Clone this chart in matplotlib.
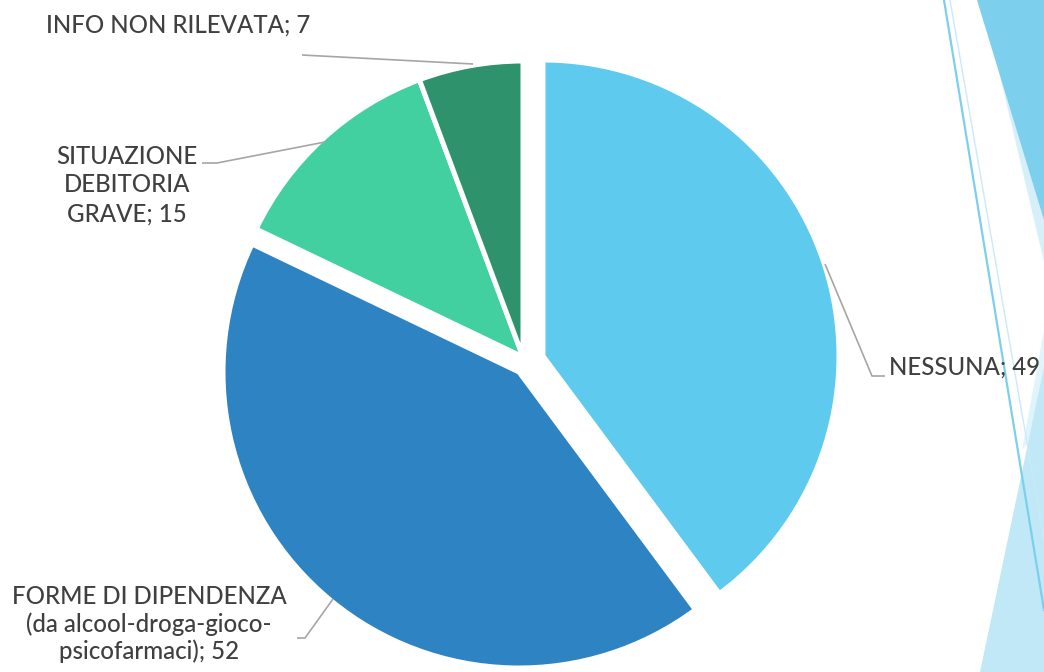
import matplotlib
matplotlib.use("Agg")
import matplotlib.pyplot as plt
from matplotlib.patches import Polygon

# ---- data ----
categories = ["NESSUNA", "FORME DI DIPENDENZA\n(da alcool-droga-gioco-\npsicofarmaci)",
              "SITUAZIONE\nDEBITORIA\nGRAVE", "INFO NON RILEVATA"]
values = [49, 52, 15, 7]
colors = ["#5ECAEE", "#2E83C3", "#43D0A0", "#2E936C"]

# ---- style / layout (pixel coords, y measured from top) ----
W, H = 1044, 672
CENTER = (523, 357)
RADIUS = 296
SLICE_SHIFT = [(20, 1), (-4, -15), (0, 0), (0, 0)]  # (dx right, dy up) px
TEXT_COLOR = "#404040"
LINE_COLOR = "#A6A6A6"
FONT = ["Lato", "DejaVu Sans"]
FS = 17.3

label_pos = [  # (x, y, ha)
    (889, 367, "left"),
    (149, 624, "center"),
    (127, 185, "center"),
    (178, 25, "center"),
]
leaders = [
    [(825, 264), (872, 376), (885, 376)],
    [(297, 638), (305, 638), (333, 599)],
    [(202, 163), (217, 163), (325, 142)],
    [(302, 55), (473, 64)],
]
spacings = [1.0, 1.22, 1.3, 1.0]

fig = plt.figure(figsize=(W / 100, H / 100), dpi=100)
ax = fig.add_axes([0, 0, 1, 1])

def Y(y):
    return H - y

# background decoration (slide theme)
deco = [
    ([(995, 55), (W, 262), (W, 100)], "#D6F0FA"),
    ([(977, 0), (W, 0), (W, 220)], "#7DCFEE"),
    ([(1044, 330), (1044, 420), (1022, 450)], "#E0F4FB"),
    ([(980, H), (W, 367), (W, H)], "#C0E8F7"),
]
for pts, c in deco:
    ax.add_patch(Polygon([(x, Y(y)) for x, y in pts], closed=True,
                         facecolor=c, edgecolor="none", zorder=0))
ax.plot([944, 1044], [Y(0), Y(610)], color="#7DCFEE", lw=1.6, zorder=0.5)
ax.plot([950, 1044], [Y(0), Y(540)], color="#C9EBF7", lw=1.0, zorder=0.5)

wedges, _ = ax.pie(values, colors=colors, startangle=90, counterclock=False,
                   center=(CENTER[0], Y(CENTER[1])), radius=RADIUS,
                   wedgeprops=dict(edgecolor="white", linewidth=3.6))
for w, (dx, dy) in zip(wedges, SLICE_SHIFT):
    cx, cy = w.center
    w.set_center((cx + dx, cy + dy))
    w.set_zorder(2)

for cat, val, (x, y, ha), pts, ls in zip(categories, values, label_pos, leaders, spacings):
    ax.text(x, Y(y), f"{cat}; {val}", ha=ha, va="center", fontsize=FS,
            color=TEXT_COLOR, family=FONT, fontweight="medium", linespacing=ls,
            zorder=3, multialignment="center")
    ax.plot([p[0] for p in pts], [Y(p[1]) for p in pts], color=LINE_COLOR,
            lw=1.2, zorder=3, solid_capstyle="butt")

ax.set_xlim(0, W)
ax.set_ylim(0, H)
ax.set_aspect("auto")
ax.axis("off")
fig.savefig("out.png", dpi=100, facecolor="white")
